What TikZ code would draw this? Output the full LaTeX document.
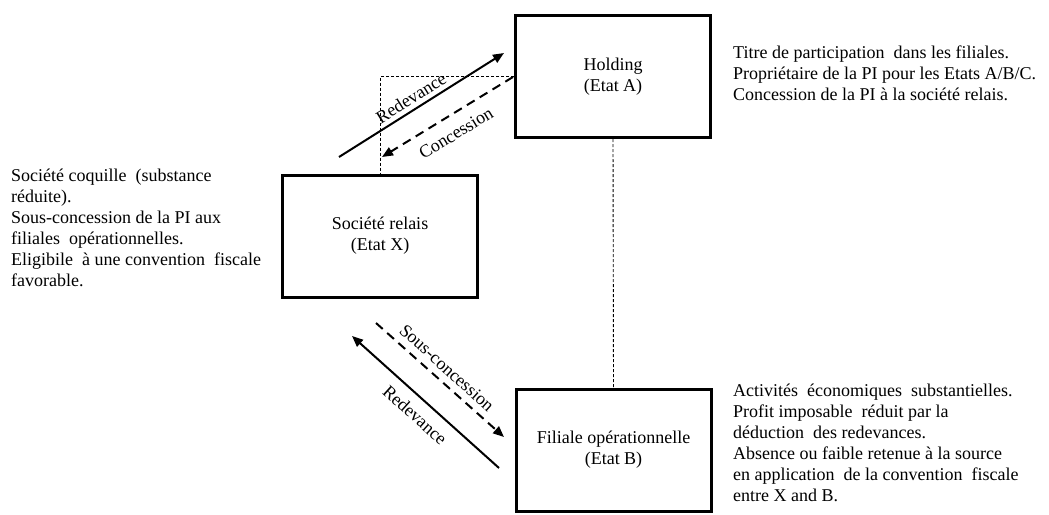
\documentclass[tikz,border=0pt]{standalone}
\usepackage{fontspec}
\setmainfont{Liberation Serif}
\usetikzlibrary{arrows.meta}

\begin{document}
\begin{tikzpicture}[x=1pt, y=-1pt,
  txt/.style={font=\fontsize{18}{20.9}\selectfont},
  entity/.style={txt, draw, line width=3pt, minimum width=195pt,
    minimum height=122pt, align=center, inner sep=0pt},
  note/.style={txt, anchor=north west, align=left, inner sep=0pt},
  flowlabel/.style={txt, inner sep=0pt},
  flow/.style={line width=2pt, -{Triangle[length=11pt,width=9pt]}},
  flowdash/.style={flow, dash pattern=on 9pt off 6pt},
  link/.style={line width=0.9pt, dash pattern=on 3pt off 2pt},
]
\useasboundingbox (0,0) rectangle (1049,514);

% entities
\node[entity] (holding) at (613,76.5) {Holding\\(Etat A)};
\node[entity] (relais)  at (380,236)  {Société relais\\(Etat X)};
\node[entity] (filiale) at (613.5,450) {Filiale opérationnelle\\(Etat B)};

% ownership links
\draw[link] (holding.south) -- (filiale.north);
\draw[link] (holding.west) -| (relais.north);

% flows between holding and relay company
\coordinate (redA1) at (339,157);
\coordinate (redA2) at (504,53);
\coordinate (conA1) at (513,77);
\coordinate (conA2) at (382,157);
\draw[flow] (redA1) -- (redA2);
\draw[flowdash] (conA1) -- (conA2);
\node[flowlabel, rotate=32] (lblRedA) at (411,98) {Redevance};
\node[flowlabel, rotate=31.5] (lblCon) at (456,133) {Concession};

% flows between relay company and subsidiary
\coordinate (sousA1) at (376,323);
\coordinate (sousA2) at (504,437);
\coordinate (redB1) at (499,468);
\coordinate (redB2) at (352,336);
\draw[flowdash] (sousA1) -- (sousA2);
\draw[flow] (redB1) -- (redB2);
\node[flowlabel, rotate=-42] (lblSous) at (447,368) {Sous-concession};
\node[flowlabel, rotate=-42] (lblRedB) at (415,415) {Redevance};

% descriptions
\node[note] (noteHolding) at (733,46) {Titre de participation\ \ dans les filiales.\\
Propriétaire de la PI pour les Etats A/B/C.\\
Concession de la PI à la société relais.};

\node[note] (noteRelais) at (11,169) {Société coquille\ \ (substance\\
réduite).\\
Sous-concession de la PI aux\\
filiales\ \ opérationnelles.\\
Eligibile\ \ à une convention\ \ fiscale\\
favorable.};

% the text frame of this note is cut off at its lower edge
\begin{scope}
\clip (720,370) rectangle (1049,504);
\node[note] (noteFiliale) at (733,384) {Activités\ \ économiques\ \ substantielles.\\
Profit imposable\ \ réduit par la\\
déduction\ \ des redevances.\\
Absence ou faible retenue à la source\\
en application\ \ de la convention\ \ fiscale\\
entre X and B.};
\end{scope}
\end{tikzpicture}
\end{document}
